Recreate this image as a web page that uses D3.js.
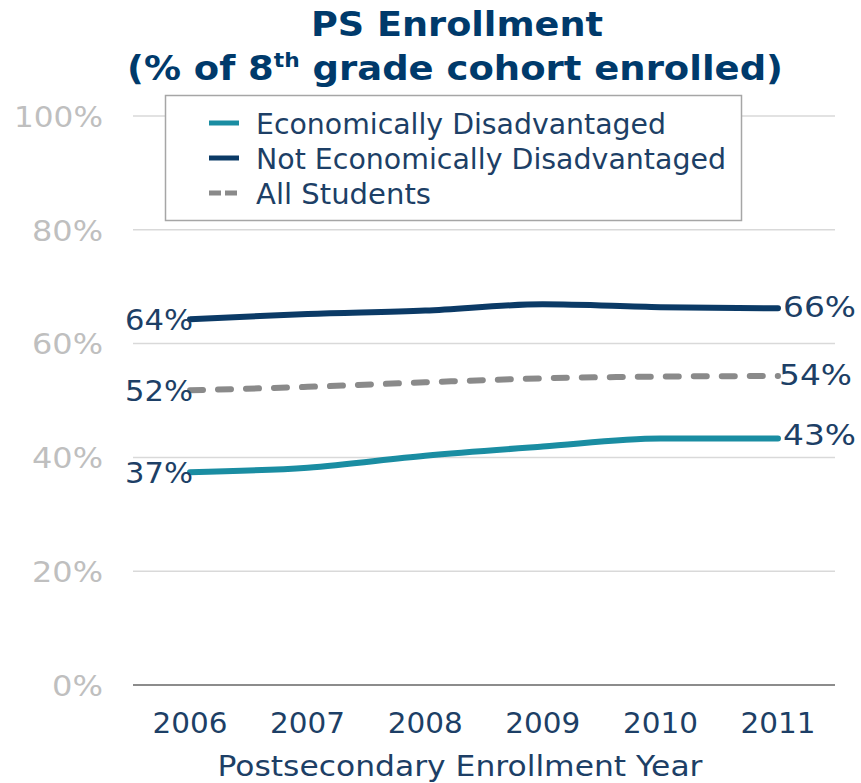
<!DOCTYPE html>
<html><head><meta charset="utf-8">
<script src="https://cdn.jsdelivr.net/npm/d3@7"></script>
<style>
html,body{margin:0;padding:0;background:#fff;}
svg{display:block;font-family:"DejaVu Sans",Verdana,sans-serif;}
</style></head>
<body><div id="chart"></div>
<script>
const years = ["2006","2007","2008","2009","2010","2011"];
const econDis = [37.4, 38.2, 40.3, 41.9, 43.3, 43.3];
const notEconDis = [64.3, 65.2, 65.8, 66.9, 66.4, 66.2];
const allStudents = [51.8, 52.4, 53.2, 53.9, 54.2, 54.3];
const yTicks = [0, 20, 40, 60, 80, 100];
const yTickLabels = ["0%", "20%", "40%", "60%", "80%", "100%"];
const seriesNames = ["Economically Disadvantaged", "Not Economically Disadvantaged", "All Students"];
const startLabels = ["37%", "64%", "52%"];
const endLabels = ["43%", "66%", "54%"];

const W = 861, H = 783;
const svg = d3.select("#chart").append("svg").attr("width", W).attr("height", H);

const navy = "#1d3f66";
const colors = ["#1a8da2", "#0b3a66", "#8a8a8a"];
const series = [econDis, notEconDis, allStudents];
const FS = 29;

const x = d3.scalePoint().domain(years).range([190, 778]);
const y = d3.scaleLinear().domain([0, 100]).range([685, 116]);

function fit(sel, w) {
  sel.attr("textLength", w).attr("lengthAdjust", "spacingAndGlyphs");
}

// gridlines
svg.append("g").selectAll("line").data(yTicks).join("line")
  .attr("x1", 133).attr("x2", 835)
  .attr("y1", d => y(d)).attr("y2", d => y(d))
  .attr("stroke", d => d === 0 ? "#8c8c8c" : "#d9d9d9")
  .attr("stroke-width", d => d === 0 ? 2 : 1.5);

// y axis labels
svg.append("g").selectAll("text").data(yTicks).join("text")
  .attr("x", 103).attr("y", d => y(d)).attr("dy", "0.37em")
  .attr("text-anchor", "end").attr("fill", "#bfbfbf")
  .attr("font-size", FS).text((d, i) => yTickLabels[i])
  .each(function(d){ fit(d3.select(this), d === 100 ? 89 : d === 0 ? 51 : 71); });

// x axis labels
svg.append("g").selectAll("text").data(years).join("text")
  .attr("x", d => x(d)).attr("y", 733).attr("text-anchor", "middle")
  .attr("fill", navy).attr("font-size", FS).text(d => d)
  .each(function(){ fit(d3.select(this), 75); });

svg.append("text").attr("x", 460).attr("y", 776).attr("text-anchor", "middle")
  .attr("fill", navy).attr("font-size", FS).text("Postsecondary Enrollment Year")
  .call(fit, 485);

// title
svg.append("text").attr("x", 457).attr("y", 36).attr("text-anchor", "middle")
  .attr("fill", "#003a6b").attr("font-size", 34).attr("font-weight", "bold")
  .text("PS Enrollment").call(fit, 292);
const t2 = svg.append("text").attr("x", 455).attr("y", 80).attr("text-anchor", "middle")
  .attr("fill", "#003a6b").attr("font-size", 34).attr("font-weight", "bold");
t2.append("tspan").text("(% of 8");
t2.append("tspan").attr("font-size", 20).attr("dy", -13).text("th");
t2.append("tspan").attr("dy", 13).text(" grade cohort enrolled)");
t2.call(fit, 656);

// lines
const line = d3.line().x((d, i) => x(years[i])).y(d => y(d)).curve(d3.curveMonotoneX);
series.forEach((s, k) => {
  svg.append("path").datum(s).attr("d", line)
    .attr("fill", "none").attr("stroke", colors[k])
    .attr("stroke-width", 6)
    .attr("stroke-linecap", "round")
    .attr("stroke-dasharray", k === 2 ? "13,15" : null);
});

// data labels
series.forEach((s, k) => {
  svg.append("text").attr("x", 193).attr("y", y(s[0])).attr("dy", "0.37em")
    .attr("text-anchor", "end").attr("fill", navy).attr("font-size", FS)
    .text(startLabels[k]).call(fit, 68);
  svg.append("text").attr("x", k === 2 ? 779 : 783).attr("y", y(s[s.length - 1])).attr("dy", k === 0 ? "0.22em" : "0.3em")
    .attr("text-anchor", "start").attr("fill", navy).attr("font-size", FS)
    .text(endLabels[k]).call(fit, 73);
});

// legend
const lg = svg.append("g");
lg.append("rect").attr("x", 165.5).attr("y", 95.5).attr("width", 576).attr("height", 125)
  .attr("fill", "#fff").attr("stroke", "#a6a6a6").attr("stroke-width", 1.5);
const legendW = [410, 470, 175];
seriesNames.forEach((n, k) => {
  const yy = 123 + k * 35;
  lg.append("line").attr("x1", 209).attr("x2", 239).attr("y1", yy).attr("y2", yy)
    .attr("stroke", colors[k]).attr("stroke-width", 5)
    .attr("stroke-dasharray", k === 2 ? "12,4" : null);
  lg.append("text").attr("x", 256).attr("y", yy).attr("dy", "0.37em")
    .attr("fill", navy).attr("font-size", FS).text(n).call(fit, legendW[k]);
});
</script></body></html>
